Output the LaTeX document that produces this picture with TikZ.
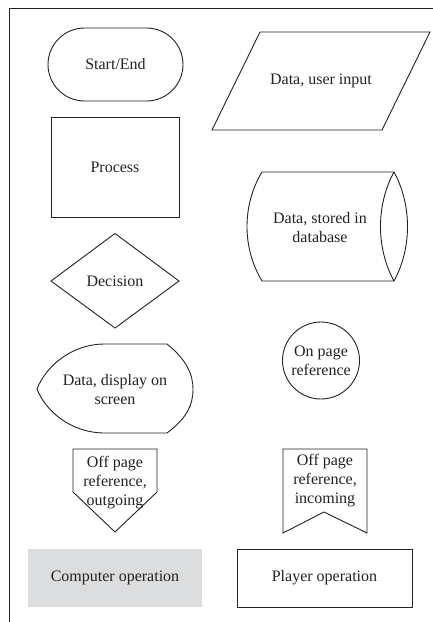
\documentclass[tikz,border=0pt]{standalone}
\usepackage{fontspec}
\setmainfont{Liberation Serif}
\usetikzlibrary{shapes.misc}
\definecolor{ink}{HTML}{222222}
\definecolor{opgray}{HTML}{DCDDDF}
\begin{document}
\begin{tikzpicture}[x=1pt,y=-1pt,
  shp/.style={draw=ink,line width=0.9pt},
  lbl/.style={text=ink,align=center,inner sep=0pt,font=\fontsize{16}{19}\selectfont},
  box/.style={shp,lbl,rectangle}]
\useasboundingbox (0,0) rectangle (433,622);
% frame
\draw[shp] (433,8.5) -- (9,8.5) -- (9,622);
% Start/End
\node[shp,lbl,rounded rectangle,minimum width=135pt,minimum height=73pt] (start) at (115.5,64.5) {Start/End};
% Data, user input
\draw[shp] (260,32) -- (430,32) -- (382,130) -- (212,130) -- cycle;
\node[lbl] (input) at (321,81) {Data, user input};
% Process
\node[box,minimum width=128pt,minimum height=100pt] (process) at (115,167) {Process};
% Database
\draw[shp] (262,172) -- (394,172) .. controls (412,205) and (412,248) .. (394,281) -- (262,281) .. controls (242,248) and (242,205) .. (262,172);
\draw[shp] (394,172) .. controls (376,205) and (376,248) .. (394,281);
\node[lbl] (db) at (320,227.5) {Data, stored in\\database};
% Decision
\draw[shp] (115,233.5) -- (179,281) -- (115,328) -- (51,281) -- cycle;
\node[lbl] (decision) at (115,281) {Decision};
% Display
\draw[shp] (105,344) -- (167,344) .. controls (187,360) and (193,375) .. (193,389) .. controls (193,405) and (187,418) .. (167,433) -- (105,433) .. controls (70,433) and (45,410) .. (37,389) .. controls (45,368) and (70,344) .. (105,344) -- cycle;
\node[lbl] (display) at (115,389.5) {Data, display on\\screen};
% On page reference
\node[shp,lbl,circle,minimum size=77pt] (onpage) at (321,360.5) {On page\\reference};
% Off page outgoing
\draw[shp] (73,449) -- (157,449) -- (157,492) -- (115,532) -- (73,492) -- cycle;
\node[lbl] (outgoing) at (115,483) {Off page\\reference,\\outgoing};
% Off page incoming
\draw[shp] (283,449) -- (367,449) -- (367,533) -- (324,512) -- (283,533) -- cycle;
\node[lbl] (incoming) at (325,481) {Off page\\reference,\\incoming};
% Operations
\node[lbl,fill=opgray,minimum width=174pt,minimum height=58pt] (computer) at (115,578) {Computer operation};
\node[box,minimum width=175pt,minimum height=58pt] (player) at (324.5,578) {Player operation};
\end{tikzpicture}
\end{document}
